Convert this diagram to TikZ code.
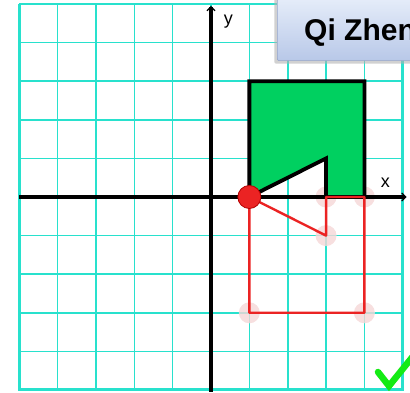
\documentclass[tikz,border=0pt]{standalone}
\usepackage{fontspec}
\setmainfont{Liberation Sans}
\usetikzlibrary{arrows.meta,shadows}
\definecolor{gridc}{RGB}{40,225,205}
\definecolor{shapegreen}{RGB}{0,208,96}
\definecolor{imgred}{RGB}{235,35,35}
\definecolor{ghost}{RGB}{245,215,215}
\definecolor{boxtop}{RGB}{236,242,252}
\definecolor{boxbot}{RGB}{184,200,232}
\definecolor{boxedge}{RGB}{150,165,200}
\definecolor{checkgreen}{RGB}{20,235,20}
\tikzset{
  gridline/.style={draw=gridc,line width=1.6pt},
  gridborder/.style={draw=gridc,line width=3pt},
  axisline/.style={draw=black,line width=3.2pt,-{Straight Barb[length=4pt,width=8pt,line width=1.2pt]}},
  axislabel/.style={font=\fontsize{18}{18}\selectfont,inner sep=0pt},
  greenshape/.style={fill=shapegreen,draw=black,line width=3.8pt,line join=miter},
  redshape/.style={draw=imgred,line width=2.4pt,line join=round},
  ghostdot/.style={circle,fill=ghost,draw=none,minimum size=21pt,inner sep=0pt,opacity=0.8},
  pivotdot/.style={circle,fill=imgred,draw=red!70!black,line width=0.8pt,minimum size=23pt,inner sep=0pt},
  titlebox/.style={draw=boxedge,line width=0.6pt,top color=boxtop,bottom color=boxbot,rounded corners=2pt,
     drop shadow={shadow xshift=-3pt,shadow yshift=-3pt,fill=gray!60,opacity=0.6}},
  titletext/.style={font=\bfseries\fontsize{30}{30}\selectfont,inner sep=0pt,anchor=base west},
  checkmark/.style={draw=checkgreen,line width=6.5pt,line cap=round,line join=miter}
}
\begin{document}
\begin{tikzpicture}
\useasboundingbox (0,0) rectangle (410pt,393pt);
\clip (0,0) rectangle (410pt,393pt);
\begin{scope}[shift={(211pt,196pt)},x=38.35pt,y=38.6pt]
  % grid
  \foreach \i in {-4,...,4} {
    \draw[gridline] (\i,-5) -- (\i,5);
    \draw[gridline] (-5,\i) -- (5,\i);
  }
  \draw[gridline] (-5,5) -- (5,5);
  \draw[gridborder] (-5,5) -- (-5,-5) -- (5,-5) -- (5,5);
  % ghost vertex markers
  \foreach \p/\n in {{(3,0)}/g1,{(4,0)}/g2,{(3,-1)}/g3,{(1,-3)}/g4,{(4,-3)}/g5}
    \node[ghostdot] (\n) at \p {};
  % axes
  \coordinate (xs) at (-5,0);
  \coordinate (xe) at (5.1,0);
  \coordinate (ys) at (0,-5.05);
  \coordinate (ye) at (0,4.95);
  \draw[axisline] (xs) -- (xe);
  \draw[axisline] (ys) -- (ye);
  \node[axislabel] (ylab) at (0.45,4.55) {y};
  \node[axislabel] (xlab) at (4.55,0.36) {x};
  % green shape
  \coordinate (A) at (1,0);
  \coordinate (B) at (1,3);
  \coordinate (C) at (4,3);
  \coordinate (D) at (4,0);
  \coordinate (E) at (3,0);
  \coordinate (F) at (3,1);
  \draw[greenshape] (A) -- (B) -- (C) -- (D) -- (E) -- (F) -- cycle;
  % red image
  \coordinate (B2) at (1,-3);
  \coordinate (C2) at (4,-3);
  \coordinate (F2) at (3,-1);
  \draw[redshape] (A) -- (B2) -- (C2) -- (D) -- (E) -- (F2) -- cycle;
  % pivot
  \node[pivotdot] (pivot) at (A) {};
\end{scope}
% title box
\node[titlebox,minimum width=150pt,minimum height=72pt,anchor=south west] (tbox) at (277pt,332pt) {};
\node[titletext] (title) at (304pt,352pt) {Qi Zhen};
% check mark
\coordinate (k1) at (378pt,21pt);
\coordinate (k2) at (389pt,7pt);
\coordinate (k3) at (414pt,38pt);
\draw[checkmark] (k1) -- (k2) -- (k3);
\end{tikzpicture}
\end{document}
